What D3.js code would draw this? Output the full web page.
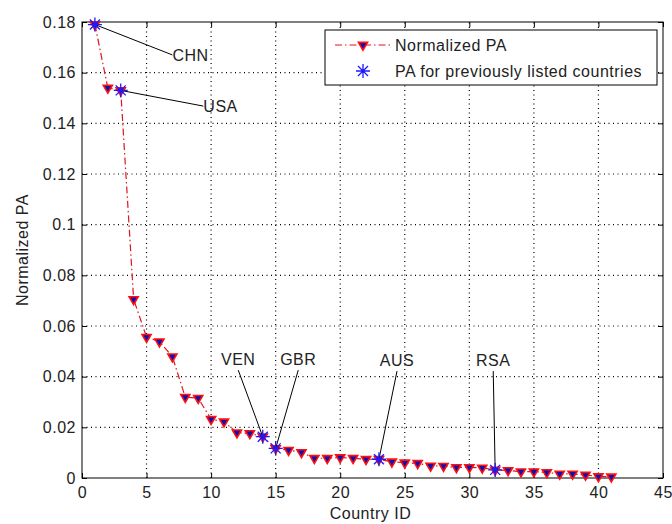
<!DOCTYPE html>
<html>
<head>
<meta charset="utf-8">
<script src="https://cdn.jsdelivr.net/npm/d3@7"></script>
<style>
  body { margin: 0; background: #fff; }
  text { font-family: Arial, "Liberation Sans", sans-serif; letter-spacing: 0.5px; }
</style>
</head>
<body>
<div id="chart"></div>
<script>
var width = 672
var height = 524
var margin = { top: 22, right: 9, bottom: 46, left: 82 };

// data
var countryIds = d3.range(1, 42);
var normalizedPA = [0.179, 0.154, 0.153, 0.0705, 0.0556, 0.0538, 0.0479, 0.0319, 0.0315, 0.0232,
    0.0222, 0.0179, 0.0176, 0.0163, 0.0117, 0.011, 0.0101, 0.0078, 0.0078, 0.0081,
    0.0078, 0.0074, 0.0074, 0.0064, 0.006, 0.0058, 0.0048, 0.0047, 0.0042, 0.0042,
    0.004, 0.0032, 0.003, 0.0025, 0.0025, 0.0022, 0.0016, 0.0016, 0.0012, 0.0006, 0.0005];
var listedIds = [1, 3, 14, 15, 23, 32];
var listedNames = ['CHN', 'USA', 'VEN', 'GBR', 'AUS', 'RSA'];
// where each label's leader line ends (data units)
var labelX = [7.0, 9.4, 12.1, 16.75, 24.4, 31.85];
var labelY = [0.167, 0.1468, 0.0426, 0.0426, 0.0422, 0.0422];
var xTicks = d3.range(0, 46, 5);
var yTicks = d3.range(0, 0.181, 0.02);

var svg = d3.select('#chart')
    .append('svg')
    .attr('width', width)
    .attr('height', height);

var chartWidth = width - margin.left - margin.right;
var chartHeight = height - margin.top - margin.bottom;

var xScale = d3.scaleLinear().domain([0, 45]).range([margin.left, margin.left + chartWidth]);
var yScale = d3.scaleLinear().domain([0, 0.18]).range([margin.top + chartHeight, margin.top]);

var x0 = xScale(0), x1 = xScale(45), y0 = yScale(0), y1 = yScale(0.18);
var fs = 16;

// grid
svg.append('g').selectAll('line.gx')
    .data(xTicks.slice(1, -1))
    .enter().append('line')
    .attr('x1', d => xScale(d)).attr('x2', d => xScale(d))
    .attr('y1', y0).attr('y2', y1)
    .attr('stroke', '#000').attr('stroke-width', 1.2).attr('stroke-dasharray', '1,3.5');
svg.append('g').selectAll('line.gy')
    .data(yTicks.slice(1, -1))
    .enter().append('line')
    .attr('y1', d => yScale(d)).attr('y2', d => yScale(d))
    .attr('x1', x0).attr('x2', x1)
    .attr('stroke', '#000').attr('stroke-width', 1.2).attr('stroke-dasharray', '1,3.5');

// axes (ticks inside, box on)
var axisStyle = function(g) {
    g.select('.domain').remove();
    g.selectAll('.tick line').attr('stroke', '#000');
    g.selectAll('.tick text').attr('font-size', fs).attr('fill', '#222');
};
svg.append('g').attr('transform', 'translate(0,' + y0 + ')')
    .call(d3.axisBottom(xScale).tickValues(xTicks).tickSizeInner(-5).tickSizeOuter(0).tickPadding(9))
    .call(axisStyle);
svg.append('g').attr('transform', 'translate(' + x0 + ',0)')
    .call(d3.axisLeft(yScale).tickValues(yTicks).tickSizeInner(-5).tickSizeOuter(0).tickPadding(6)
        .tickFormat(d => d === 0 ? '0' : d3.format('.2~f')(d)))
    .call(axisStyle);
svg.append('g').attr('transform', 'translate(0,' + y1 + ')')
    .call(d3.axisTop(xScale).tickValues(xTicks).tickSizeInner(-5).tickSizeOuter(0).tickFormat(''))
    .call(axisStyle);
svg.append('g').attr('transform', 'translate(' + x1 + ',0)')
    .call(d3.axisRight(yScale).tickValues(yTicks).tickSizeInner(-5).tickSizeOuter(0).tickFormat(''))
    .call(axisStyle);
svg.append('rect')
    .attr('x', x0).attr('y', y1).attr('width', x1 - x0).attr('height', y0 - y1)
    .attr('fill', 'none').attr('stroke', '#000').attr('stroke-width', 1);

// axis labels
svg.append('text')
    .attr('x', (x0 + x1) / 2 - 2).attr('y', 519)
    .attr('text-anchor', 'middle').attr('font-size', fs).attr('fill', '#222')
    .text('Country ID');
svg.append('text')
    .attr('transform', 'translate(28,' + (y0 + y1) / 2 + ') rotate(-90)')
    .attr('text-anchor', 'middle').attr('font-size', fs).attr('fill', '#222')
    .text('Normalized PA');

// series line
var line = d3.line()
    .x(function(d, i) { return xScale(countryIds[i]); })
    .y(function(d) { return yScale(d); });
svg.append('path')
    .datum(normalizedPA)
    .attr('d', line)
    .attr('fill', 'none')
    .attr('stroke', '#e0141e')
    .attr('stroke-width', 1.2)
    .attr('stroke-dasharray', '7,3,1.5,3');

var tri = d3.symbol().type(d3.symbolTriangle).size(36);
function drawTri(g, x, y) {
    g.append('path')
        .attr('d', tri())
        .attr('transform', 'translate(' + x + ',' + y + ') rotate(180)')
        .attr('fill', '#1010b0')
        .attr('stroke', '#ff1010')
        .attr('stroke-width', 1.6);
}
var mk = svg.append('g');
normalizedPA.forEach(function(d, i) { drawTri(mk, xScale(countryIds[i]), yScale(d)); });

function drawStar(g, x, y) {
    var r = 7, r2 = 5;
    var p = 'M' + (x - r) + ',' + y + 'H' + (x + r) +
        'M' + x + ',' + (y - r) + 'V' + (y + r) +
        'M' + (x - r2) + ',' + (y - r2) + 'L' + (x + r2) + ',' + (y + r2) +
        'M' + (x - r2) + ',' + (y + r2) + 'L' + (x + r2) + ',' + (y - r2);
    g.append('path').attr('d', p).attr('stroke', '#1a1aff').attr('stroke-width', 1.3).attr('fill', 'none');
}

// annotations
listedIds.forEach(function(id, k) {
    var v = normalizedPA[id - 1];
    var px = xScale(id), py = yScale(v);
    var lx = xScale(labelX[k]), ly = yScale(labelY[k]);
    svg.append('line')
        .attr('x1', px).attr('y1', py).attr('x2', lx).attr('y2', ly)
        .attr('stroke', '#000').attr('stroke-width', 1);
    var t = svg.append('text').attr('font-size', fs).attr('fill', '#222').text(listedNames[k]);
    if (k < 2) {
        t.attr('x', lx).attr('y', ly + 6);
    } else {
        t.attr('x', lx).attr('y', ly - 5).attr('text-anchor', 'middle');
    }
});
var st = svg.append('g');
listedIds.forEach(function(id) { drawStar(st, xScale(id), yScale(normalizedPA[id - 1])); });

// legend
var lg = svg.append('g');
lg.append('rect')
    .attr('x', 325).attr('y', 30).attr('width', 332).attr('height', 55)
    .attr('fill', '#fff').attr('stroke', '#000').attr('stroke-width', 1);
lg.append('line')
    .attr('x1', 335).attr('x2', 391).attr('y1', 45).attr('y2', 45)
    .attr('stroke', '#e0141e').attr('stroke-width', 1.2).attr('stroke-dasharray', '7,3,1.5,3');
drawTri(lg, 363, 45);
lg.append('text').attr('x', 395).attr('y', 51).attr('font-size', fs).attr('fill', '#222').text('Normalized PA');
drawStar(lg, 363, 71);
lg.append('text').attr('x', 395).attr('y', 77).attr('font-size', fs).attr('fill', '#222').text('PA for previously listed countries');
</script>
</body>
</html>
